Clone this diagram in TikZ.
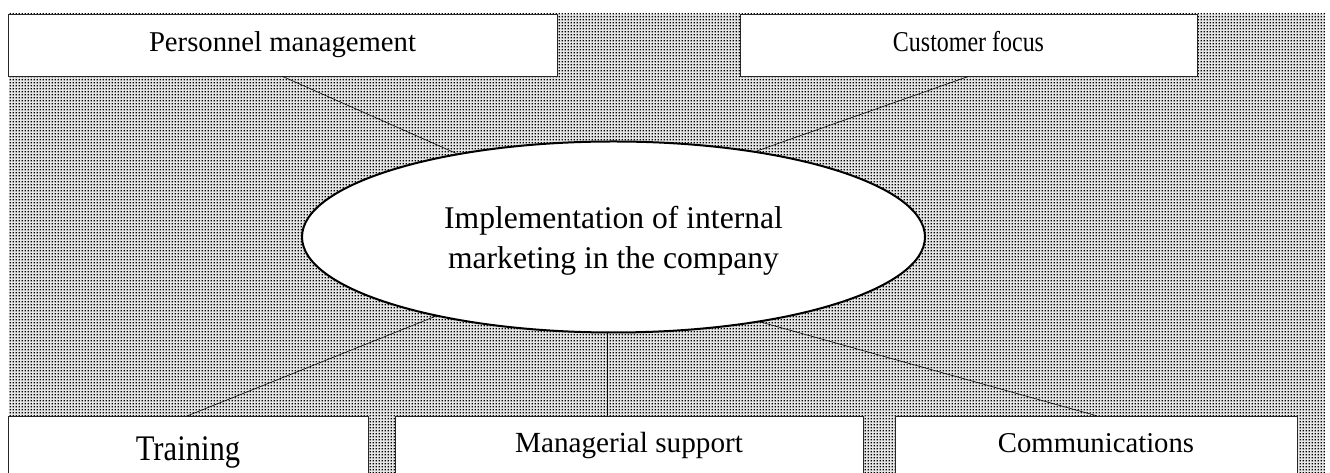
\documentclass[tikz,border=0pt]{standalone}
\usepackage{fontspec}
\setmainfont{Liberation Serif}
\usetikzlibrary{shapes.geometric,patterns}
\pgfdeclarepatternformonly{fine dots}{\pgfpointorigin}{\pgfpoint{3.3pt}{3.3pt}}{\pgfpoint{3.3pt}{3.3pt}}{%
  \pgfpathrectangle{\pgfpoint{0.9pt}{0.9pt}}{\pgfpoint{1.5pt}{1.5pt}}\pgfusepath{fill}}
\begin{document}
\begin{tikzpicture}[x=1pt,y=1pt,
  box/.style={draw=black!85,line width=0.8pt,fill=white,rectangle,inner sep=0pt,minimum height=62pt,font=\fontsize{28.7}{30}\selectfont},
  hub/.style={draw,line width=2pt,fill=white,ellipse,inner sep=0pt,minimum width=623pt,minimum height=191pt,align=center,font=\fontsize{31.6}{40}\selectfont},
  link/.style={line width=0.6pt}]
\useasboundingbox (0,0) rectangle (1330,473);
% dotted background
\fill[black!10] (9,0) rectangle (1325,459);
\fill[pattern=fine dots] (9,0) rectangle (1325,459);
% top row
\node[box,minimum width=549pt,text height=20pt,text depth=6pt] (pm) at (282.5,428) {Personnel management};
\node[box,minimum width=457pt,text height=20pt,text depth=6pt] (cf) at (968.5,428) {\scalebox{0.835}[1]{Customer focus}};
% centre
\node[hub] (impl) at (613.5,236) {\rule{0pt}{30.5pt}Implementation of internal\\marketing in the company};
% bottom row
\node[box,minimum width=360pt,minimum height=74pt,text height=22pt,text depth=6pt,font=\fontsize{36}{38}\selectfont] (tr) at (188,20) {\scalebox{0.85}[1]{Training}};
\node[box,minimum width=468pt,minimum height=74pt,text height=12pt,text depth=12pt,font=\fontsize{29.2}{30}\selectfont] (ms) at (629,20) {Managerial support};
\node[box,minimum width=402pt,minimum height=74pt,text height=12pt,text depth=12pt] (co) at (1096,20) {Communications};
% links
\draw[link] (pm.south) -- (impl.152.5);
\draw[link] (cf.south) -- (impl.31);
\draw[link] (tr.north) -- (impl.204);
\draw[link] (co.north) -- (impl.330.5);
\coordinate (stem) at ([xshift=-6.5pt]impl.south);
\draw[link] (stem) -- (stem |- ms.north);
\end{tikzpicture}
\end{document}
